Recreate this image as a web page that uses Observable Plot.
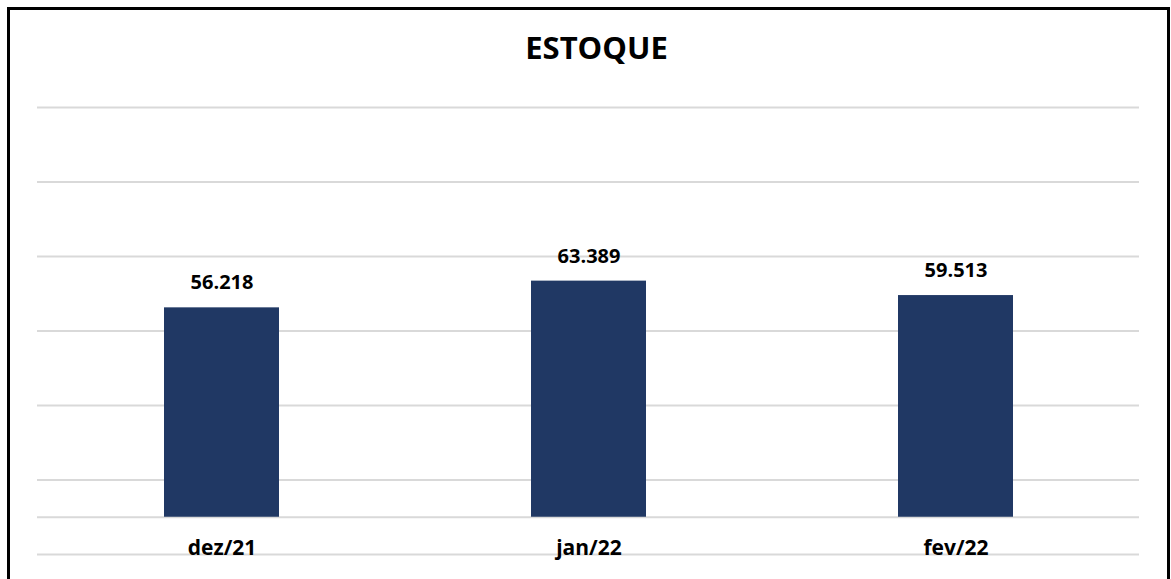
<!DOCTYPE html>
<html>
<head>
<meta charset="utf-8">
<script src="https://cdn.jsdelivr.net/npm/d3@7"></script>
<script src="https://cdn.jsdelivr.net/npm/@observablehq/plot@0.6"></script>
<style>
  html, body { margin: 0; padding: 0; background: #fff; overflow: hidden; }
  #wrap { position: relative; width: 1171px; height: 579px; font-family: "Open Sans", sans-serif; }
  #border { position: absolute; left: 7px; top: 7px; width: 1163px; height: 600px; border: 3px solid #000; border-bottom: none; box-sizing: border-box; pointer-events: none; }
  #title { position: absolute; left: 11px; top: 32px; width: 1171px; text-align: center; font-size: 31px; line-height: 31px; font-weight: 700; color: #000; }
  #chart { position: absolute; left: 0; top: 80px; }
</style>
</head>
<body>
<div id="wrap">
  <div id="chart"></div>
  <div id="title">ESTOQUE</div>
  <div id="border"></div>
</div>
<script>
const months = ["dez/21", "jan/22", "fev/22"];
const estoque = [56218, 63389, 59513];
const gridTicks = [-10000, 0, 10000, 30000, 50000, 70000, 90000, 110000];
const yDomain = [-10000, 110000];

const data = months.map((m, i) => ({month: m, value: estoque[i]}));
const fmt = v => d3.format(",")(v).replace(/,/g, ".");

const chart = Plot.plot({
  width: 1171,
  height: 499,
  marginLeft: 37,
  marginRight: 32,
  marginTop: 27,
  marginBottom: 25,
  style: {fontFamily: "'Open Sans', sans-serif", background: "transparent", overflow: "visible"},
  x: {domain: months, paddingInner: 0.687, paddingOuter: 0.3435, axis: null},
  y: {domain: yDomain, axis: null},
  marks: [
    Plot.ruleY(gridTicks, {stroke: "#d9d9d9", strokeWidth: 2}),
    Plot.barY(data, {x: "month", y: "value", fill: "#203864"}),
    Plot.text(data, {x: "month", y: "value", text: d => fmt(d.value), dy: -25, fontSize: 20, fontWeight: 700, fill: "#000"}),
    Plot.text(data, {x: "month", y: () => 0, text: "month", dy: 31, fontSize: 21, fontWeight: 700, fill: "#000"})
  ]
});
document.getElementById("chart").appendChild(chart);
</script>
</body>
</html>
